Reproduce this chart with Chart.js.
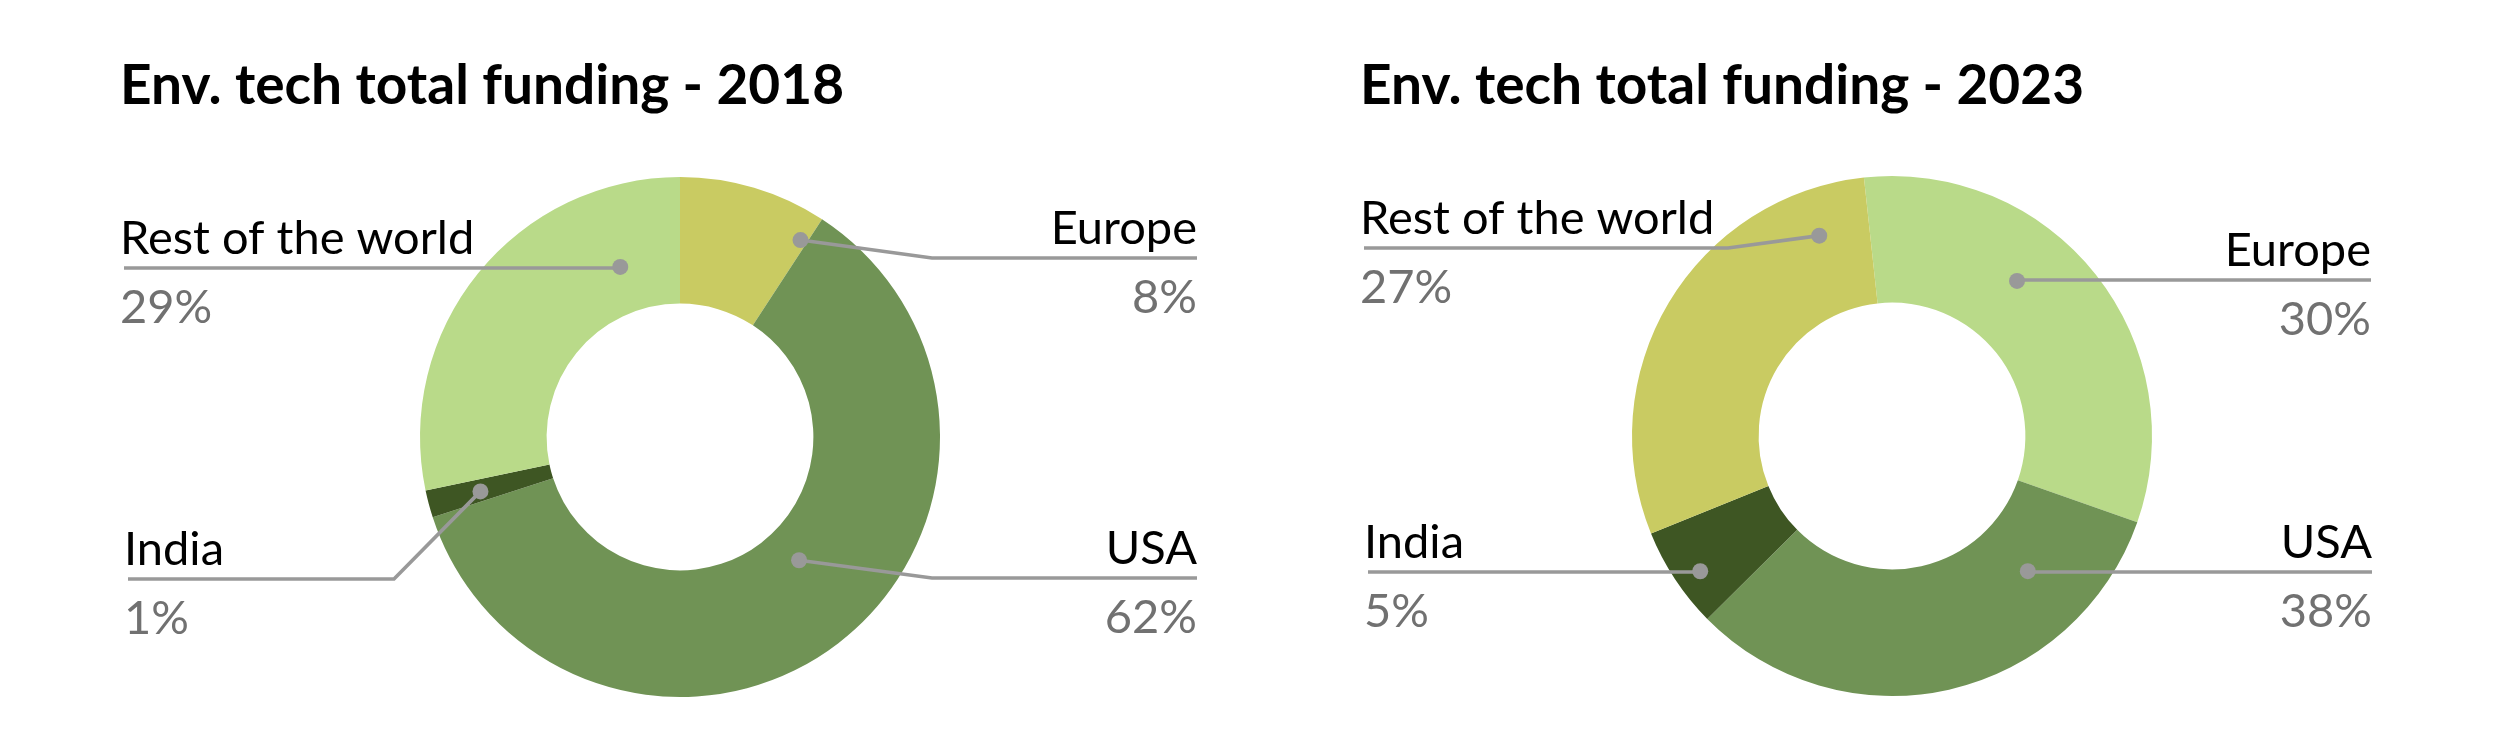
<!DOCTYPE html>
<html>
<head>
<meta charset="utf-8">
<script src="https://cdn.jsdelivr.net/npm/chart.js@4.4.1/dist/chart.umd.min.js"></script>
<style>
  html, body { margin: 0; padding: 0; background: #fff; }
  #wrap { position: relative; width: 2496px; height: 744px; }
  .panel { position: absolute; top: 0; width: 1248px; height: 744px; }
  .panel canvas { position: absolute; left: 0; top: 0; }
  h2 {
    position: absolute; margin: 0; top: 47px;
    font: 700 55px "Lato", sans-serif; line-height: 72px; color: #000;
    white-space: nowrap;
  }
</style>
</head>
<body>
<div id="wrap">
  <div class="panel" style="left:0">
    <canvas id="chart2018" width="1248" height="744"></canvas>
    <h2 style="left:120px">Env. tech total funding - 2018</h2>
  </div>
  <div class="panel" style="left:1248px">
    <canvas id="chart2023" width="1248" height="744"></canvas>
    <h2 style="left:112px">Env. tech total funding - 2023</h2>
  </div>
</div>
<script>
// slices in drawing order, clockwise from the top
const regions = ["Europe", "USA", "India", "Rest of the world"];

// slice sizes as drawn (share of the ring, %)
const shares2018 = [9.2, 60.8, 1.7, 28.3];
const shares2023 = [32.1, 32.2, 6.3, 29.4];

// printed percentages
const pctLabels2018 = ["8%", "62%", "1%", "29%"];
const pctLabels2023 = ["30%", "38%", "5%", "27%"];

const LIGHT = "#b9da89", OLIVE = "#c9cb62", MID = "#709355", DARK = "#3e5623";
const LINE = "#999999";

// draws the dot, leader line, name and percent for every slice
const leaderPlugin = {
  id: "leaders",
  afterDatasetsDraw(chart, args, opts) {
    const ctx = chart.ctx;
    const meta = chart.getDatasetMeta(0);
    const names = chart.data.labels;
    ctx.save();
    opts.items.forEach((it, i) => {
      const p = meta.data[i].getProps(["x", "y", "startAngle", "endAngle", "innerRadius", "outerRadius"], true);
      const a = p.startAngle + it.t * (p.endAngle - p.startAngle);
      const r = p.innerRadius + it.rf * (p.outerRadius - p.innerRadius);
      const dx = p.x + Math.cos(a) * r;
      const dy = p.y + Math.sin(a) * r;

      ctx.strokeStyle = LINE;
      ctx.lineWidth = 3.6;
      ctx.beginPath();
      ctx.moveTo(it.x, it.lineY);
      if (it.elbowX != null) ctx.lineTo(it.elbowX, it.lineY);
      else ctx.lineTo(dx, it.lineY);
      ctx.lineTo(dx, dy);
      ctx.stroke();

      ctx.fillStyle = LINE;
      ctx.beginPath();
      ctx.arc(dx, dy, 8, 0, Math.PI * 2);
      ctx.fill();

      const tx = it.side === "left" ? it.x - 4 : it.x;
      ctx.textAlign = it.side;
      ctx.textBaseline = "alphabetic";
      ctx.font = "400 47px Lato";
      ctx.fillStyle = "#000";
      ctx.fillText(names[i], tx, it.lineY - 14);
      ctx.fillStyle = "#717171";
      ctx.fillText(opts.pcts[i], tx, it.lineY + 55);
    });
    ctx.restore();
  }
};

function makeDonut(id, shares, colors, rotation, padding, pcts, items) {
  return new Chart(document.getElementById(id), {
    type: "doughnut",
    data: {
      labels: regions,
      datasets: [{
        data: shares,
        backgroundColor: colors,
        borderWidth: 0,
        hoverOffset: 0
      }]
    },
    options: {
      responsive: false,
      animation: false,
      devicePixelRatio: 1,
      cutout: "51.3%",
      rotation: rotation,
      layout: { padding: padding },
      events: [],
      plugins: {
        legend: { display: false },
        tooltip: { enabled: false },
        title: { display: false },
        leaders: { pcts: pcts, items: items }
      }
    },
    plugins: [leaderPlugin]
  });
}

document.fonts.load("400 47px Lato").then(() => document.fonts.load("700 55px Lato")).then(() => {
  makeDonut("chart2018", shares2018, [OLIVE, MID, DARK, LIGHT], 0,
    { left: 420, right: 308, top: 177, bottom: 47 }, pctLabels2018, [
      { side: "right", x: 1197, lineY: 258, elbowX: 932, t: 0.95, rf: 0.77 },
      { side: "right", x: 1197, lineY: 578, elbowX: 932, t: 0.47, rf: 0.30 },
      { side: "left",  x: 128,  lineY: 579, elbowX: 394, t: 0.45, rf: 0.58 },
      { side: "left",  x: 124,  lineY: 268, elbowX: null, t: 0.81, rf: 0.37 }
    ]);
  makeDonut("chart2023", shares2023, [LIGHT, MID, DARK, OLIVE], -6.2,
    { left: 384, right: 344, top: 176, bottom: 48 }, pctLabels2023, [
      { side: "right", x: 1123, lineY: 280, elbowX: null, t: 0.39, rf: 0.52 },
      { side: "right", x: 1124, lineY: 572, elbowX: null, t: 0.22, rf: 0.46 },
      { side: "left",  x: 120,  lineY: 572, elbowX: null, t: 0.42, rf: 0.80 },
      { side: "left",  x: 116,  lineY: 248, elbowX: 480, t: 0.87, rf: 0.63 }
    ]);
});
</script>
</body>
</html>
